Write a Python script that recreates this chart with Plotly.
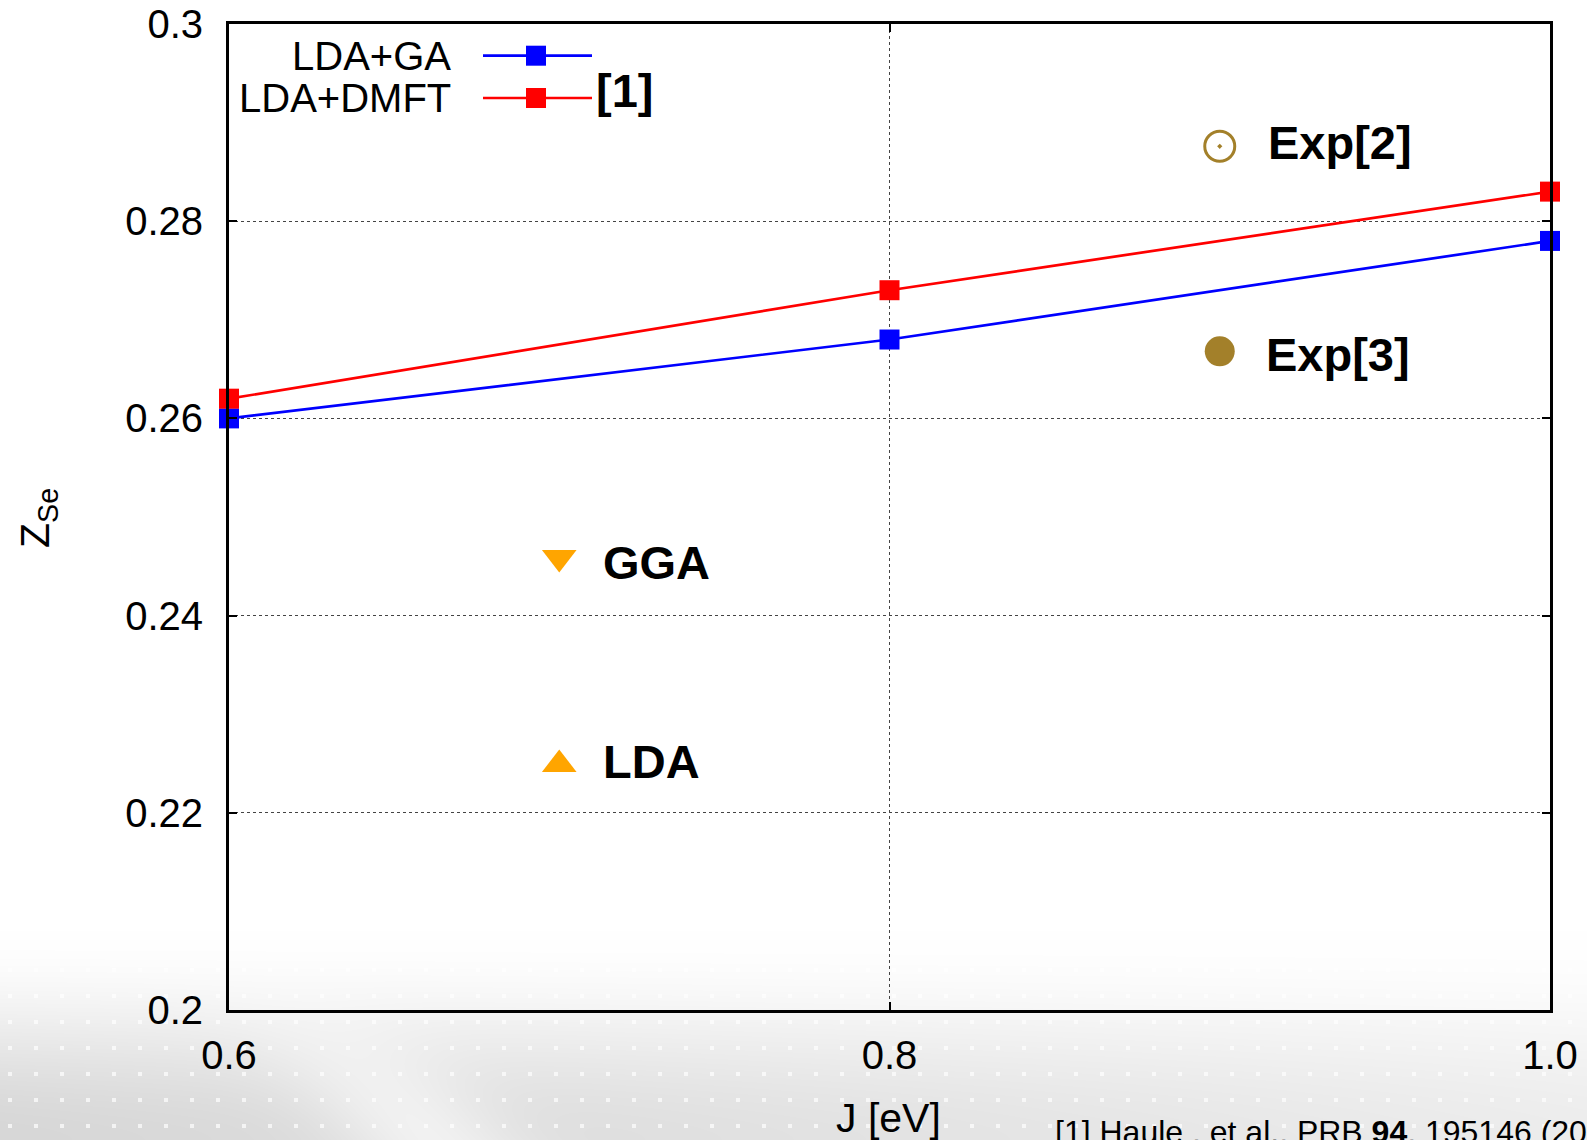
import plotly.graph_objects as go
import numpy as np
import zlib, struct, base64

# ---------------- data ----------------
J_vals = [0.6, 0.8, 1.0]
z_lda_ga = [0.260, 0.268, 0.278]
z_lda_dmft = [0.262, 0.273, 0.283]
exp2_J, exp2_z = [0.9], [0.2876]
exp3_J, exp3_z = [0.9], [0.2668]
gga_J, gga_z = [0.7], [0.2459]
lda_J, lda_z = [0.7], [0.2249]
x_tickvals = [0.6, 0.8, 1.0]
x_ticktext = ["0.6", "0.8", "1.0"]
y_tickvals = [0.2, 0.22, 0.24, 0.26, 0.28, 0.3]
y_ticktext = ["0.2", "0.22", "0.24", "0.26", "0.28", "0.3"]

# ---------------- geometry helpers ----------------
W, H = 1587, 1140
L, R, T, B = 229, 37, 24, 130
PW, PH = W - L - R, H - T - B


def px(xp):
    return (xp - L) / PW


def py(yp):
    return (H - B - yp) / PH


FONT = "Liberation Sans, Arial, sans-serif"
GOLD = "#a3802a"
ORANGE = "#ffa500"

# ---------------- background image ----------------
yy, xx = np.mgrid[0:H, 0:W].astype(float)
t = np.clip((yy - 930) / 210.0, 0, 1)
t = t * t * (3 - 2 * t)
shade = 40 * t * (1 - 0.55 * xx / W)
u = (xx - 0.9 * (yy - 940))
band = np.exp(-((u - 250) / 90.0) ** 2) * t
shade = shade * (1 - 0.6 * band)
img = 255 - shade
dots = ((xx - 8) % 26 < 4) & ((yy - 6) % 26 < 4)
img = np.where(dots, np.minimum(255, img + 0.7 * shade), img)
img = np.clip(img, 0, 255).astype(np.uint8)


def png_bytes(arr):
    h, w = arr.shape
    raw = b"".join(b"\x00" + arr[i].tobytes() for i in range(h))

    def chunk(tag, d):
        c = struct.pack(">I", len(d)) + tag + d
        return c + struct.pack(">I", zlib.crc32(tag + d) & 0xFFFFFFFF)

    ihdr = struct.pack(">IIBBBBB", w, h, 8, 0, 0, 0, 0)
    return (b"\x89PNG\r\n\x1a\n" + chunk(b"IHDR", ihdr)
            + chunk(b"IDAT", zlib.compress(raw, 9)) + chunk(b"IEND", b""))


bg_src = "data:image/png;base64," + base64.b64encode(png_bytes(img)).decode()

# ---------------- figure ----------------
fig = go.Figure()

fig.add_trace(go.Scatter(
    x=J_vals, y=z_lda_ga, mode="lines+markers", name="LDA+GA",
    line=dict(color="#0000ff", width=2.7),
    marker=dict(symbol="square", size=20, color="#0000ff"),
    cliponaxis=False, showlegend=False))
fig.add_trace(go.Scatter(
    x=J_vals, y=z_lda_dmft, mode="lines+markers", name="LDA+DMFT",
    line=dict(color="#ff0000", width=2.7),
    marker=dict(symbol="square", size=20, color="#ff0000"),
    cliponaxis=False, showlegend=False))
fig.add_trace(go.Scatter(
    x=exp2_J, y=exp2_z, mode="markers", name="Exp[2]",
    marker=dict(symbol="circle-open-dot", size=30, color=GOLD,
                line=dict(width=3, color=GOLD)),
    showlegend=False))
fig.add_trace(go.Scatter(
    x=exp3_J, y=exp3_z, mode="markers", name="Exp[3]",
    marker=dict(symbol="circle", size=30, color=GOLD),
    showlegend=False))
fig.add_trace(go.Scatter(
    x=gga_J, y=gga_z, mode="markers", name="GGA",
    marker=dict(symbol="triangle-down", size=30, color=ORANGE),
    showlegend=False))
fig.add_trace(go.Scatter(
    x=lda_J, y=lda_z, mode="markers", name="LDA",
    marker=dict(symbol="triangle-up", size=30, color=ORANGE),
    showlegend=False))

annotations = []
for xv, yv, txt, xs, ys in [
    (exp2_J[0], exp2_z[0], "Exp[2]", 46, 4),
    (exp3_J[0], exp3_z[0], "Exp[3]", 44, -3),
    (gga_J[0], gga_z[0], "GGA", 42, -5),
    (lda_J[0], lda_z[0], "LDA", 42, 3),
]:
    annotations.append(dict(
        x=xv, y=yv, xref="x", yref="y", text=f"<b>{txt}</b>", showarrow=False,
        xanchor="left", yanchor="middle", xshift=xs, yshift=ys,
        font=dict(family=FONT, size=47, color="black")))

# manual legend (gnuplot style)
shapes = []
for yl, name, col in [(55.7, "LDA+GA", "#0000ff"), (98, "LDA+DMFT", "#ff0000")]:
    annotations.append(dict(
        x=px(453), y=py(yl), xref="paper", yref="paper", text=name,
        showarrow=False, xanchor="right", yanchor="middle",
        font=dict(family=FONT, size=40, color="black")))
    shapes.append(dict(type="line", xref="paper", yref="paper",
                       x0=px(483), x1=px(592), y0=py(yl), y1=py(yl),
                       line=dict(color=col, width=2.7)))
    shapes.append(dict(type="rect", xref="paper", yref="paper",
                       x0=px(526), x1=px(546), y0=py(yl + 10), y1=py(yl - 10),
                       fillcolor=col, line=dict(width=0)))
annotations.append(dict(
    x=px(594), y=py(91), xref="paper", yref="paper", text="<b>[1]</b>",
    showarrow=False, xanchor="left", yanchor="middle",
    font=dict(family=FONT, size=47, color="black")))

# axis titles
annotations.append(dict(
    x=px(888), y=py(1118), xref="paper", yref="paper", text="J [eV]",
    showarrow=False, xanchor="center", yanchor="middle",
    font=dict(family=FONT, size=41, color="black")))
annotations.append(dict(
    x=px(38), y=py(518), xref="paper", yref="paper", text="Z<sub>Se</sub>",
    showarrow=False, xanchor="center", yanchor="middle", textangle=-90,
    font=dict(family=FONT, size=41, color="black")))

# reference
annotations.append(dict(
    x=px(1053), y=py(1132), xref="paper", yref="paper",
    text="[1] Haule , et al., PRB <b>94</b>, 195146 (2016)",
    showarrow=False, xanchor="left", yanchor="middle",
    font=dict(family=FONT, size=32, color="black")))

axis_common = dict(
    showline=True, linecolor="black", linewidth=3, mirror="ticks",
    ticks="inside", ticklen=8, tickwidth=1.5, tickcolor="black",
    showgrid=True, gridcolor="#444444", gridwidth=1, griddash="3px,3px",
    zeroline=False, automargin=False,
    tickfont=dict(family=FONT, size=40, color="black"),
)

fig.update_layout(
    width=W, height=H,
    margin=dict(l=L, r=R, t=T, b=B),
    paper_bgcolor="white", plot_bgcolor="rgba(0,0,0,0)",
    xaxis=dict(range=[0.6, 1.0], tickvals=x_tickvals, ticktext=x_ticktext,
               ticklabelstandoff=8, **axis_common),
    yaxis=dict(range=[0.2, 0.3], tickvals=y_tickvals, ticktext=y_ticktext,
               ticklabelstandoff=15, **axis_common),
    annotations=annotations,
    shapes=shapes,
    images=[dict(source=bg_src, xref="paper", yref="paper",
                 x=px(0), y=py(0), sizex=W / PW, sizey=H / PH,
                 xanchor="left", yanchor="top", sizing="stretch",
                 layer="below")],
    showlegend=False,
)

post = ("document.body.style.margin='0';document.body.style.overflow='hidden';"
        "var gd=document.getElementById('{plot_id}');"
        "gd.style.position='absolute';gd.style.left='0px';gd.style.top='0px';")

fig.write_html("out.html", post_script=post, config={"displayModeBar": False})
